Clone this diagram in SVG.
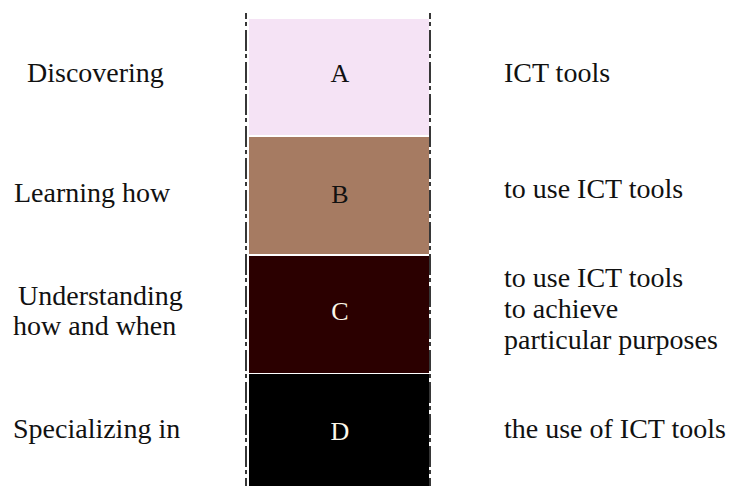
<svg xmlns="http://www.w3.org/2000/svg" width="737" height="486" viewBox="0 0 737 486">
<style>
text{font-family:"Liberation Serif","Times New Roman",serif;font-size:28px;fill:#111}
.lbl{font-size:26px;text-anchor:middle}
.light{fill:#fdf8ea}
.guide{stroke:#222;stroke-width:1.8;fill:none;stroke-dasharray:21 3 4 4;stroke-dashoffset:15}
</style>
<rect width="737" height="486" fill="#ffffff"/>
<g id="box-A"><rect x="249" y="19" width="180" height="116" fill="#f5e3f5"/><text class="lbl" x="340" y="82">A</text></g>
<g id="box-B"><rect x="249" y="137" width="180" height="117" fill="#a67b62"/><text class="lbl" x="340" y="203">B</text></g>
<g id="box-C"><rect x="249" y="256" width="180" height="117" fill="#2b0000"/><text class="lbl light" x="340" y="320">C</text></g>
<g id="box-D"><rect x="249" y="374" width="180" height="112" fill="#000000"/><text class="lbl light" x="340" y="440">D</text></g>
<g id="lines">
<line class="guide" x1="246" y1="13" x2="246" y2="486"/>
<line class="guide" x1="430" y1="13" x2="430" y2="486"/>
</g>
<g id="left-A"><text x="27" y="82">Discovering</text></g>
<g id="left-B"><text x="14" y="202">Learning how</text></g>
<g id="left-C"><text x="18" y="305">Understanding</text><text x="13" y="335">how and when</text></g>
<g id="left-D"><text x="13" y="438">Specializing in</text></g>
<g id="right-A"><text x="504" y="82">ICT tools</text></g>
<g id="right-B"><text x="504" y="198">to use ICT tools</text></g>
<g id="right-C"><text x="504" y="287">to use ICT tools</text><text x="504" y="318">to achieve</text><text x="504" y="349">particular purposes</text></g>
<g id="right-D"><text x="504" y="438">the use of ICT tools</text></g>
</svg>
